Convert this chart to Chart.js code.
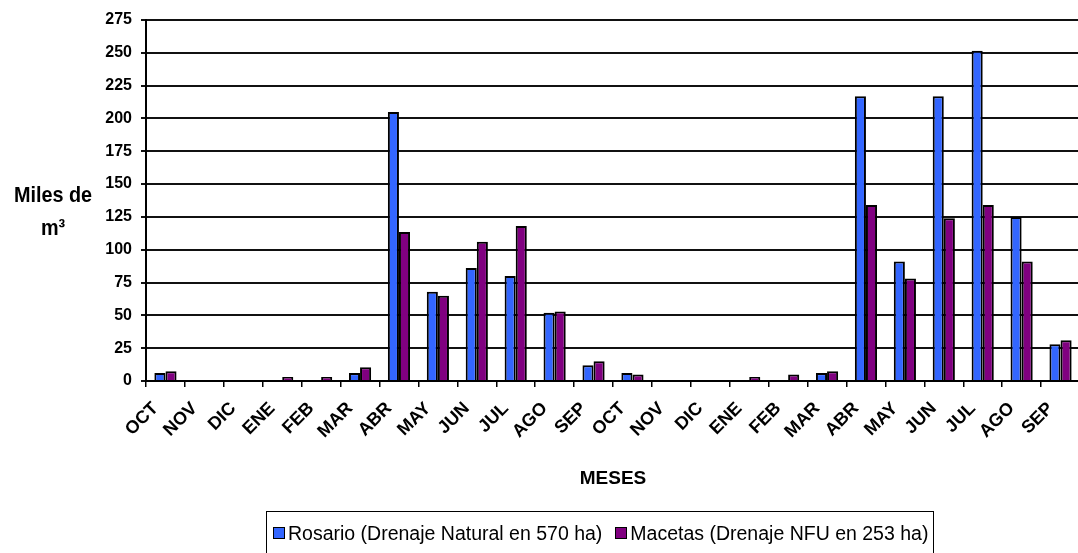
<!DOCTYPE html>
<html>
<head>
<meta charset="utf-8">
<script src="https://cdn.jsdelivr.net/npm/chart.js@4/dist/chart.umd.min.js"></script>
<style>
  html, body { margin: 0; padding: 0; background: #fff; overflow: hidden; }
  #wrap { position: relative; width: 1078px; height: 553px; overflow: hidden; }
  #chart { position: absolute; left: 0; top: 0; }
  .ytitle {
    position: absolute; left: 0; width: 106px; text-align: center;
    font-family: "Liberation Sans", Arial, sans-serif;
    font-weight: bold; font-size: 22px; line-height: 33px; color: #000;
    top: 178px; transform: scaleX(0.9); transform-origin: 53px 0;
  }
  .legend {
    position: absolute; left: 266px; top: 511px; width: 668px; height: 44px;
    border: 1px solid #000; box-sizing: border-box;
    display: flex; align-items: center; padding-left: 6px; white-space: nowrap;
    font-family: "Liberation Sans", Arial, sans-serif; font-size: 19.5px; color: #000;
  }
  .legend .sw { display: inline-block; flex: none; width: 10px; height: 10px; border: 1px solid #000; margin-right: 3px; }
  .legend .item { display: flex; align-items: center; margin-right: 13px; }
</style>
</head>
<body>
<div id="wrap">
  <canvas id="chart" width="1080" height="553"></canvas>
  <div class="ytitle">Miles de<br>m³</div>
  <div class="legend" id="legend"></div>
</div>
<script>
// Months across two hydrological years (October to September)
const months = ['OCT','NOV','DIC','ENE','FEB','MAR','ABR','MAY','JUN','JUL','AGO','SEP',
                'OCT','NOV','DIC','ENE','FEB','MAR','ABR','MAY','JUN','JUL','AGO','SEP'];

// Drained volume, thousands of m³
const rosario = [6, 0, 0, 0, 0, 6, 205, 68, 86, 80, 52, 12,
                 6, 0, 0, 0, 0, 6, 217, 91, 217, 251.5, 125, 28];
const macetas = [7.5, 0, 0, 3, 3, 10.5, 113.5, 65, 106, 118, 53, 15,
                 5, 0, 0, 3, 5, 7.5, 134, 78, 124, 134, 91, 31];

const seriesNames = ['Rosario (Drenaje Natural en 570 ha)', 'Macetas (Drenaje NFU en 253 ha)'];
const seriesColors = ['#3366FF', '#800080'];

const yTicks = { min: 0, max: 275, step: 25 };

const yTickFont = { family: '"Liberation Sans", Arial, sans-serif', weight: 'bold', size: 16 };
const xTickFont = { family: '"Liberation Sans", Arial, sans-serif', weight: 'bold', size: 18 };

new Chart(document.getElementById('chart'), {
  type: 'bar',
  data: {
    labels: months,
    datasets: [rosario, macetas].map((values, i) => ({
      label: seriesNames[i],
      data: values,
      backgroundColor: seriesColors[i],
      borderColor: '#000',
      borderWidth: 2,
      barPercentage: 1.0,
      categoryPercentage: 0.57
    }))
  },
  options: {
    responsive: false,
    animation: false,
    layout: { padding: { left: 0, right: 0, top: 20, bottom: 57 } },
    plugins: { legend: { display: false }, tooltip: { enabled: false } },
    scales: {
      x: {
        afterFit: (s) => { s.height = 115; s.paddingLeft = 0; s.paddingRight = 0; },
        border: { display: true, color: '#000', width: 2 },
        grid: { display: true, drawOnChartArea: false, drawTicks: true, tickLength: 6, color: '#000', lineWidth: 1.5, offset: true },
        ticks: { color: '#000', font: xTickFont, maxRotation: 45, minRotation: 45, autoSkip: false, padding: 11, labelOffset: -10 },
        title: {
          display: true, text: 'MESES', color: '#000',
          font: { family: '"Liberation Sans", Arial, sans-serif', weight: 'bold', size: 19 },
          padding: { top: 0, bottom: 6 }
        }
      },
      y: {
        min: yTicks.min, max: yTicks.max,
        afterFit: (s) => { s.width = 146; },
        border: { display: true, color: '#000', width: 2 },
        grid: { color: '#111', lineWidth: 2, tickLength: 5, drawTicks: true },
        ticks: { stepSize: yTicks.step, color: '#000', font: yTickFont, padding: 9 }
      }
    }
  }
});

// Framed legend below the chart
const legend = document.getElementById('legend');
seriesNames.forEach((name, i) => {
  const item = document.createElement('span');
  item.className = 'item';
  const sw = document.createElement('span');
  sw.className = 'sw';
  sw.style.background = seriesColors[i];
  item.appendChild(sw);
  item.appendChild(document.createTextNode(name));
  legend.appendChild(item);
});
</script>
</body>
</html>
